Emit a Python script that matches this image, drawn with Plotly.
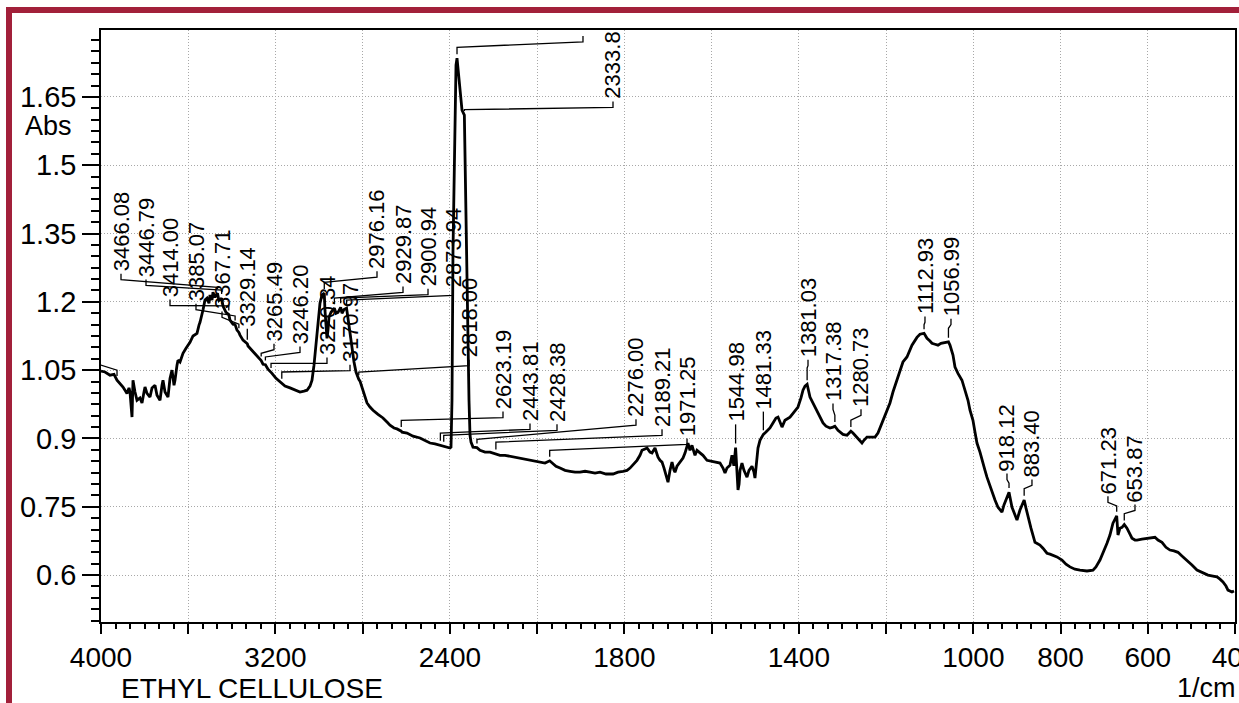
import numpy as np
import plotly.graph_objects as go

# FTIR absorbance spectrum of ethyl cellulose (wavenumber in 1/cm)
WAVENUMBER = [
    4000.0, 3981.7, 3958.7, 3940.4, 3926.6, 3912.9, 3899.1, 3889.9, 3880.8, 3871.6,
    3867.0, 3857.8, 3853.3, 3844.1, 3834.9, 3821.2, 3812.0, 3802.8, 3798.2, 3789.1,
    3775.3, 3766.1, 3752.4, 3743.2, 3729.4, 3720.3, 3715.7, 3706.5, 3692.8, 3683.6,
    3674.4, 3665.2, 3660.7, 3651.5, 3646.9, 3637.7, 3624.0, 3610.2, 3591.9, 3578.1,
    3559.8, 3550.6, 3546.0, 3532.3, 3523.1, 3513.9, 3504.8, 3500.2, 3491.0, 3486.4,
    3477.2, 3466.08, 3459.0, 3446.79, 3440.0, 3426.8, 3414.00, 3408.5, 3394.7, 3385.07,
    3376.4, 3367.71, 3362.6, 3348.8, 3329.14, 3325.9, 3303.0, 3280.1, 3265.49, 3257.1,
    3246.20, 3234.2, 3220.34, 3215.9, 3197.5, 3179.2, 3170.97, 3156.3, 3133.3, 3110.4,
    3087.5, 3069.1, 3055.4, 3041.6, 3032.4, 3023.3, 3014.1, 3005.0, 2995.8, 2986.6,
    2976.16, 2972.8, 2968.2, 2963.7, 2959.1, 2954.5, 2945.3, 2936.2, 2929.87, 2922.4,
    2913.3, 2900.94, 2894.9, 2885.7, 2873.94, 2867.4, 2858.2, 2849.0, 2839.8, 2830.7,
    2821.5, 2818.00, 2812.3, 2803.2, 2794.0, 2780.2, 2766.5, 2752.7, 2729.8, 2706.9,
    2688.5, 2674.8, 2656.4, 2642.7, 2623.19, 2619.7, 2596.8, 2569.3, 2537.2, 2514.3,
    2491.3, 2468.4, 2445.5, 2443.81, 2428.38, 2408.8, 2399.6, 2395.0, 2390.5, 2385.9,
    2376.7, 2372.1, 2367.5, 2362.9, 2353.8, 2344.6, 2333.8, 2321.7, 2312.5, 2307.9,
    2303.3, 2294.2, 2280.4, 2276.00, 2262.1, 2239.1, 2216.2, 2193.3, 2189.21, 2170.4,
    2147.4, 2124.5, 2101.6, 2078.6, 2055.7, 2032.8, 2009.8, 1993.5, 1982.0, 1971.25,
    1966.0, 1956.8, 1947.5, 1936.1, 1924.6, 1913.2, 1901.7, 1890.2, 1878.8, 1867.3,
    1855.9, 1842.1, 1826.0, 1814.6, 1803.1, 1794.0, 1787.1, 1777.9, 1771.1, 1764.2,
    1759.6, 1752.7, 1748.1, 1741.3, 1736.7, 1729.8, 1722.9, 1718.3, 1713.7, 1709.1,
    1704.6, 1700.0, 1695.4, 1690.8, 1686.2, 1684.0, 1679.4, 1672.5, 1665.6, 1661.0,
    1654.2, 1649.6, 1645.0, 1640.4, 1638.1, 1633.5, 1626.7, 1619.8, 1610.6, 1601.4,
    1592.3, 1580.8, 1573.9, 1569.3, 1564.8, 1557.9, 1553.3, 1549.0, 1544.98, 1541.8,
    1539.5, 1537.0, 1534.9, 1530.4, 1525.8, 1518.9, 1514.3, 1507.4, 1502.9, 1500.6,
    1496.0, 1493.7, 1489.1, 1481.33, 1475.3, 1470.7, 1466.2, 1459.3, 1452.4, 1447.8,
    1443.2, 1438.6, 1431.8, 1424.9, 1420.3, 1411.1, 1402.0, 1395.1, 1390.5, 1385.9,
    1381.03, 1374.5, 1367.6, 1358.4, 1351.5, 1344.6, 1337.8, 1328.6, 1321.7, 1317.38,
    1310.3, 1305.7, 1298.8, 1289.6, 1280.73, 1275.9, 1271.3, 1264.4, 1255.2, 1250.7,
    1243.8, 1234.6, 1225.4, 1218.6, 1209.4, 1200.2, 1191.1, 1184.2, 1175.0, 1168.2,
    1161.3, 1152.1, 1140.6, 1129.2, 1122.3, 1112.93, 1106.2, 1099.4, 1094.8, 1087.9,
    1081.0, 1074.1, 1065.0, 1056.99, 1053.5, 1046.6, 1042.0, 1035.2, 1026.0, 1019.1,
    1012.2, 1007.6, 1000.8, 996.2, 991.6, 984.7, 980.1, 973.2, 968.7, 961.8,
    957.2, 950.3, 943.4, 938.8, 934.3, 929.7, 918.12, 911.3, 904.5, 899.9,
    893.0, 883.40, 879.2, 874.7, 867.8, 858.6, 851.7, 847.2, 840.3, 831.1,
    824.2, 817.3, 808.2, 796.7, 787.5, 778.4, 766.9, 755.5, 739.4, 725.6,
    718.8, 709.6, 700.4, 693.5, 686.7, 679.8, 671.23, 668.3, 663.7, 659.1,
    653.87, 647.7, 640.8, 636.2, 629.3, 624.7, 613.3, 601.8, 592.6, 583.5,
    576.6, 567.4, 558.3, 549.1, 539.9, 530.7, 521.6, 510.1, 498.7, 487.2,
    473.4, 462.0, 450.5, 441.3, 434.4, 427.6, 420.7, 416.1, 406.9, 402.3,
]
ABSORBANCE = [
    1.048, 1.046, 1.039, 1.041, 1.028, 1.021, 1.013, 1.006, 0.999, 1.011,
    1.002, 0.947, 1.028, 1.002, 0.984, 0.989, 0.978, 1.002, 1.013, 0.999,
    0.991, 1.011, 1.017, 0.995, 0.984, 1.017, 1.028, 1.002, 0.991, 1.032,
    1.050, 1.017, 1.028, 1.061, 1.072, 1.068, 1.087, 1.098, 1.111, 1.125,
    1.131, 1.149, 1.155, 1.182, 1.204, 1.208, 1.197, 1.215, 1.204, 1.221,
    1.210, 1.219, 1.203, 1.208, 1.190, 1.177, 1.172, 1.160, 1.151, 1.150,
    1.138, 1.133, 1.127, 1.116, 1.108, 1.103, 1.090, 1.079, 1.071, 1.063,
    1.062, 1.052, 1.046, 1.043, 1.032, 1.024, 1.022, 1.015, 1.011, 1.006,
    1.002, 1.004, 1.006, 1.015, 1.028, 1.061, 1.105, 1.160, 1.197, 1.215,
    1.219, 1.180, 1.149, 1.120, 1.138, 1.166, 1.177, 1.182, 1.186, 1.175,
    1.177, 1.188, 1.175, 1.183, 1.186, 1.164, 1.131, 1.098, 1.068, 1.046,
    1.032, 1.030, 1.026, 1.013, 0.995, 0.978, 0.969, 0.962, 0.953, 0.945,
    0.936, 0.929, 0.923, 0.921, 0.916, 0.914, 0.912, 0.905, 0.901, 0.896,
    0.890, 0.888, 0.885, 0.886, 0.884, 0.881, 0.879, 0.881, 0.984, 1.313,
    1.643, 1.720, 1.735, 1.709, 1.654, 1.621, 1.610, 1.204, 0.984, 0.907,
    0.892, 0.881, 0.879, 0.880, 0.874, 0.870, 0.870, 0.866, 0.867, 0.863,
    0.863, 0.861, 0.859, 0.857, 0.855, 0.852, 0.850, 0.848, 0.846, 0.851,
    0.846, 0.839, 0.835, 0.830, 0.828, 0.826, 0.826, 0.828, 0.826, 0.824,
    0.826, 0.822, 0.822, 0.826, 0.828, 0.830, 0.835, 0.844, 0.852, 0.863,
    0.874, 0.877, 0.879, 0.870, 0.868, 0.879, 0.859, 0.852, 0.848, 0.835,
    0.822, 0.804, 0.830, 0.848, 0.830, 0.826, 0.839, 0.848, 0.857, 0.868,
    0.890, 0.874, 0.885, 0.870, 0.863, 0.874, 0.868, 0.863, 0.852, 0.850,
    0.848, 0.846, 0.835, 0.824, 0.835, 0.841, 0.863, 0.840, 0.880, 0.820,
    0.787, 0.800, 0.830, 0.846, 0.830, 0.815, 0.830, 0.839, 0.826, 0.813,
    0.852, 0.879, 0.896, 0.909, 0.914, 0.918, 0.923, 0.934, 0.945, 0.947,
    0.936, 0.925, 0.940, 0.945, 0.947, 0.958, 0.969, 0.989, 1.006, 1.015,
    1.019, 0.991, 0.978, 0.962, 0.949, 0.934, 0.927, 0.923, 0.925, 0.927,
    0.918, 0.914, 0.909, 0.907, 0.916, 0.912, 0.907, 0.901, 0.890, 0.896,
    0.903, 0.903, 0.903, 0.912, 0.934, 0.956, 0.978, 1.002, 1.028, 1.050,
    1.068, 1.079, 1.105, 1.122, 1.129, 1.131, 1.120, 1.114, 1.109, 1.107,
    1.105, 1.109, 1.111, 1.112, 1.105, 1.083, 1.057, 1.043, 1.028, 1.006,
    0.984, 0.962, 0.940, 0.914, 0.890, 0.870, 0.852, 0.830, 0.815, 0.795,
    0.780, 0.765, 0.749, 0.743, 0.738, 0.754, 0.782, 0.749, 0.732, 0.721,
    0.743, 0.765, 0.747, 0.727, 0.703, 0.672, 0.668, 0.666, 0.659, 0.648,
    0.646, 0.644, 0.640, 0.633, 0.624, 0.618, 0.613, 0.611, 0.609, 0.611,
    0.618, 0.633, 0.653, 0.670, 0.688, 0.714, 0.730, 0.688, 0.703, 0.705,
    0.711, 0.703, 0.690, 0.681, 0.677, 0.677, 0.679, 0.681, 0.683, 0.683,
    0.677, 0.672, 0.661, 0.655, 0.653, 0.650, 0.642, 0.633, 0.622, 0.611,
    0.604, 0.600, 0.598, 0.596, 0.591, 0.585, 0.576, 0.567, 0.563, 0.565,
]

# Peak labels: text (= peak wavenumber), column position (1/cm), text base (Abs), leader bend (Abs)
PEAK_LABELS = [
    "3466.08", "3446.79", "3414.00", "3385.07", "3367.71", "3329.14", "3265.49",
    "3246.20", "3220.34", "3170.97", "2976.16", "2929.87", "2900.94", "2873.94",
    "2818.00", "2623.19", "2443.81", "2428.38", "2333.8", "2276.00", "2189.21",
    "1971.25", "1544.98", "1481.33", "1381.03", "1317.38", "1280.73", "1112.93",
    "1056.99", "918.12", "883.40", "671.23", "653.87",
]
LABEL_WN = [
    3908.3, 3793.6, 3683.6, 3564.4, 3445.1, 3329.14, 3206.7,
    3087.5, 2963.7, 2858.2, 2734.4, 2615.1, 2500.5, 2385.9,
    2312.5, 2156.6, 2032.8, 1954.5, 1826.1, 1773.4, 1713.7,
    1656.4, 1544.98, 1481.33, 1379.0, 1321.7, 1257.5, 1110.8,
    1051.2, 922.8, 865.5, 691.3, 629.3,
]
LABEL_ABS = [
    1.265, 1.252, 1.208, 1.199, 1.182, 1.144, 1.111,
    1.105, 1.081, 1.065, 1.270, 1.237, 1.232, 1.230,
    1.076, 0.962, 0.936, 0.934, 1.643, 0.945, 0.923,
    0.903, 0.934, 0.962, 1.076, 0.980, 0.967, 1.171,
    1.166, 0.826, 0.813, 0.776, 0.758,
]
BEND_ABS = [
    1.232, 1.226, 1.191, 1.169, 1.151, 1.128, 1.087,
    1.079, 1.065, 1.046, 1.243, 1.208, 1.208, 1.204,
    1.046, 0.940, 0.912, 0.907, 1.622, 0.898, 0.892,
    0.874, 0.918, 0.946, 1.055, 0.951, 0.940, 1.150,
    1.142, 0.802, 0.790, 0.752, 0.735,
]
# Leaders whose label text lies beyond the plotting frame
HIDDEN_PEAK_WN = [3926.6, 2367.5]
HIDDEN_LABEL_WN = [4060.0, 1894.9]
HIDDEN_LABEL_ABS = [1.086, 1.787]
HIDDEN_BEND_ABS = [1.050, 1.759]

MAJOR_TICKS = [4000, 3600, 3200, 2800, 2400, 2000, 1800, 1600, 1400, 1200, 1000, 800, 600, 400]
LABELED_TICKS = [4000, 3200, 2400, 1800, 1400, 1000, 800, 600, 400]
Y_TICKS = [0.6, 0.75, 0.9, 1.05, 1.2, 1.35, 1.5, 1.65]
Y_RANGE = [0.497, 1.797]

FONT = "Liberation Sans, Arial, Helvetica, sans-serif"


def axis_pos(wn):
    """Split-scale wavenumber axis: 400 per division above 2000 1/cm, 200 below."""
    wn = np.asarray(wn, dtype=float)
    return np.where(wn >= 2000, (4000.0 - wn) / 400.0, 5.0 + (2000.0 - wn) / 200.0)


wn_arr = np.array(WAVENUMBER)
abs_arr = np.array(ABSORBANCE)
order = np.argsort(wn_arr)


def curve_at(wn):
    return float(np.interp(wn, wn_arr[order], abs_arr[order]))


# leader lines: stub under the text, slanted run, stub down to the peak
lx, ly = [], []


def add_leader(peak_wn, label_wn, label_abs, bend_abs):
    px = float(axis_pos(peak_wn))
    qx = float(axis_pos(label_wn))
    top = curve_at(peak_wn) + 0.009
    lx.extend([qx, qx, px, px, None])
    ly.extend([label_abs - 0.003, label_abs - 0.016, bend_abs, top, None])


for txt, lw, la, ba in zip(PEAK_LABELS, LABEL_WN, LABEL_ABS, BEND_ABS):
    add_leader(float(txt), lw, la, ba)
for pw, lw, la, ba in zip(HIDDEN_PEAK_WN, HIDDEN_LABEL_WN, HIDDEN_LABEL_ABS, HIDDEN_BEND_ABS):
    add_leader(pw, lw, la, ba)

fig = go.Figure()
fig.add_trace(go.Scatter(
    x=lx, y=ly, mode="lines", line=dict(color="black", width=1.3),
    hoverinfo="skip", showlegend=False,
))
fig.add_trace(go.Scatter(
    x=axis_pos(WAVENUMBER), y=ABSORBANCE, mode="lines",
    line=dict(color="black", width=2.8), showlegend=False,
))

annotations = []
for txt, lw, la in zip(PEAK_LABELS, LABEL_WN, LABEL_ABS):
    annotations.append(dict(
        x=float(axis_pos(lw)), y=la, xref="x", yref="y", text=txt,
        textangle=-90, showarrow=False, xanchor="center", yanchor="bottom",
        font=dict(family=FONT, size=22, color="black"), borderpad=0,
    ))

# plot area spans pixels 101..1235 horizontally and 30..622 vertically
PW, PH = 1134.0, 592.0
annotations += [
    dict(text="Abs", xref="paper", yref="paper", x=(74 - 101) / PW, y=(622 - 126) / PH,
         xanchor="right", yanchor="middle", showarrow=False,
         font=dict(family=FONT, size=27, color="black")),
    dict(text="ETHYL CELLULOSE", xref="paper", yref="paper", x=(119 - 101) / PW,
         y=(622 - 688) / PH, xanchor="left", yanchor="middle", showarrow=False,
         font=dict(family=FONT, size=28, color="black")),
    dict(text="1/cm", xref="paper", yref="paper", x=(1238 - 101) / PW,
         y=(622 - 688) / PH, xanchor="right", yanchor="middle", showarrow=False,
         font=dict(family=FONT, size=27, color="black")),
]

minor_x = [i / 6.0 for i in range(0, 79) if i % 6]
GRID = dict(showgrid=True, gridcolor="#a8a8a8", griddash="1px,2px", gridwidth=1)

fig.update_layout(
    width=1239, height=703, autosize=False,
    margin=dict(l=101, r=4, t=30, b=81, pad=0, autoexpand=False),
    paper_bgcolor="white", plot_bgcolor="white",
    font=dict(family=FONT, color="black"),
    annotations=annotations,
    shapes=[dict(
        type="rect", xref="paper", yref="paper",
        x0=(9 - 101) / PW, x1=1.1, y0=-0.3, y1=(622 - 10) / PH,
        line=dict(color="#A2203A", width=6), fillcolor="rgba(0,0,0,0)", layer="below",
    )],
    xaxis=dict(
        range=[float(axis_pos(4000)), float(axis_pos(400))],
        tickmode="array",
        tickvals=[float(axis_pos(w)) for w in MAJOR_TICKS],
        ticktext=[str(w) if w in LABELED_TICKS else "" for w in MAJOR_TICKS],
        ticks="outside", ticklen=10, tickwidth=1.5, tickcolor="black",
        tickfont=dict(family=FONT, size=28, color="black"),
        ticklabeloverflow="allow", automargin=False,
        showline=True, linecolor="black", linewidth=1.5, mirror=True,
        zeroline=False,
        minor=dict(tickvals=minor_x, ticks="outside", ticklen=5, tickwidth=1.5,
                   tickcolor="black", showgrid=False),
        **GRID,
    ),
    yaxis=dict(
        range=Y_RANGE,
        tickmode="array", tickvals=Y_TICKS, ticktext=[f"{v:g}" for v in Y_TICKS],
        ticks="outside", ticklen=17, tickwidth=1.5, tickcolor="black",
        tickfont=dict(family=FONT, size=29, color="black"),
        automargin=False,
        showline=True, linecolor="black", linewidth=1.5, mirror=True,
        zeroline=False,
        minor=dict(dtick=0.025, tick0=0, ticks="outside", ticklen=8, tickwidth=1.5,
                   tickcolor="black", showgrid=False),
        **GRID,
    ),
)

fig.write_html("out.html")
